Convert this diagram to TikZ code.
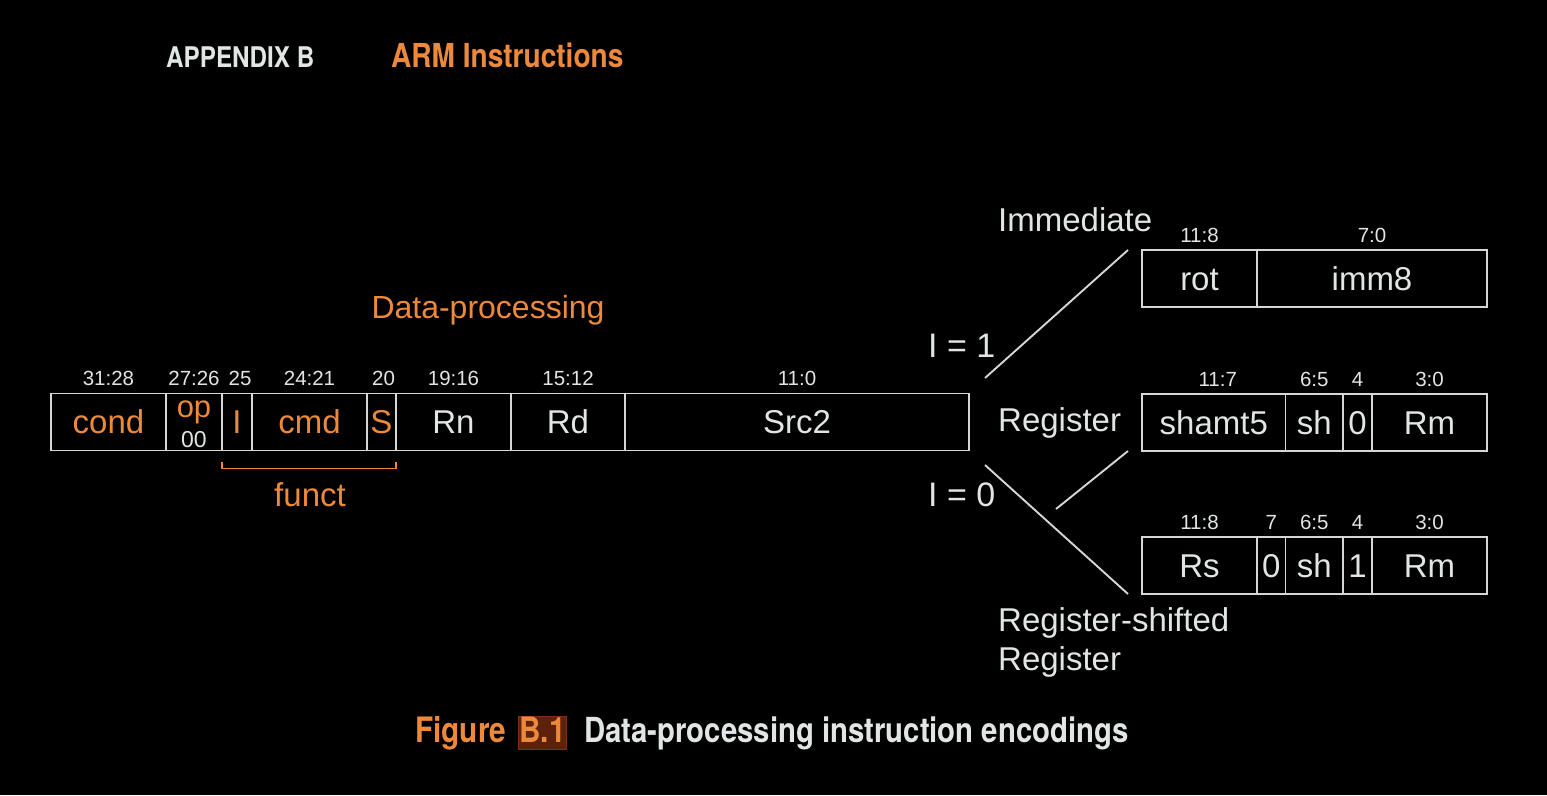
\documentclass[tikz,border=0pt]{standalone}
\usepackage{fontspec}
\setmainfont{Liberation Sans}
\newfontfamily\capfont[FakeStretch=0.85]{TeX Gyre Heros}
\usetikzlibrary{positioning}

\definecolor{armorange}{RGB}{236,137,58}
\definecolor{textgray}{RGB}{226,229,229}
\definecolor{framegray}{RGB}{214,214,214}
\definecolor{figboxfill}{RGB}{92,34,10}
\definecolor{figboxdraw}{RGB}{122,50,18}

\tikzset{
  field/.style={draw=framegray, line width=1.9pt, minimum height=57pt,
    inner sep=0pt, outer sep=0pt, text=textgray,
    text height=23.6pt, text depth=0pt, font=\fontsize{33}{38}\selectfont},
  bitno/.style={anchor=base, yshift=8pt, inner sep=0pt, text=textgray,
    font=\fontsize{20.5}{24}\selectfont},
  lbl/.style={anchor=base west, inner sep=0pt, text=textgray,
    font=\fontsize{33}{38}\selectfont},
  wire/.style={draw=framegray, line width=1.9pt},
  headtext/.style={anchor=base west, inner sep=0pt, text=textgray},
}

\begin{document}
\begin{tikzpicture}[x=1pt,y=-1pt]
            \fill[black] (0,0) rectangle (1547,795);
            \useasboundingbox (0,0) rectangle (1547,795);
            % page head
            \node[headtext, font=\capfont\bfseries\fontsize{28.5}{32}\selectfont] (appx) at (166,67) {APPENDIX B};
            \node[headtext, text=armorange, font=\capfont\bfseries\fontsize{33}{36}\selectfont] (chap) at (391,67) {ARM Instructions};
            % data-processing format
            \node[lbl, anchor=base, text=armorange, font=\fontsize{32}{36}\selectfont] (dptitle) at (488,318) {Data-processing};
            \node[field, minimum width=115pt, text=armorange] (cond) at (108.5,422) {cond};
            \node[field, minimum width=56pt, right=0pt of cond] (op) {};
            \node[field, minimum width=30pt, right=0pt of op, text=armorange] (ibit) {I};
            \node[field, minimum width=115pt, right=0pt of ibit, text=armorange] (cmd) {cmd};
            \node[field, minimum width=29pt, right=0pt of cmd, text=armorange] (sbit) {S};
            \node[field, minimum width=115pt, right=0pt of sbit] (rn) {Rn};
            \node[field, minimum width=114pt, right=0pt of rn] (rd) {Rd};
            \node[field, minimum width=344pt, right=0pt of rd] (src) {Src2};
            \node[anchor=base, inner sep=0pt, text=armorange, font=\fontsize{31}{34}\selectfont] (optop) at ([yshift=5pt]op.center) {op};
            \node[anchor=base, inner sep=0pt, text=textgray, font=\fontsize{23}{26}\selectfont] (opval) at ([yshift=-25pt]op.center) {00};
            \node[bitno] at (cond.north) {31:28};
            \node[bitno] at (op.north) {27:26};
            \node[bitno] at ([xshift=3pt]ibit.north) {25};
            \node[bitno] at (cmd.north) {24:21};
            \node[bitno] at ([xshift=2pt]sbit.north) {20};
            \node[bitno] at (rn.north) {19:16};
            \node[bitno] at (rd.north) {15:12};
            \node[bitno] at (src.north) {11:0};
            \draw[armorange, line width=1.9pt] ([yshift=-11pt]ibit.south west) -- ++(0,7) -| ([yshift=-11pt]sbit.south east);
            \node[lbl, anchor=base, text=armorange] (funct) at (310,506) {funct};
            % Src2 variants
            \node[lbl, font=\fontsize{34}{38}\selectfont] (ione) at (928,357) {I = 1};
            \node[lbl, font=\fontsize{34}{38}\selectfont] (izero) at (928,506) {I = 0};
            \node[lbl] (immlbl) at (998,231) {Immediate};
            \node[lbl] (reglbl) at (998,431) {Register};
            \node[lbl] (rsrlbl) at (998,631) {Register-shifted};
            \node[lbl] (rsrlblb) at (998,670) {Register};
            \node[field, minimum width=115pt] (rot) at (1199.5,278.5) {rot};
            \node[field, minimum width=230pt, right=0pt of rot] (imm) {imm8};
            \node[bitno] at (rot.north) {11:8};
            \node[bitno] at (imm.north) {7:0};
            \node[field, minimum width=143.5pt] (shamt) at (1213.75,422.5) {shamt5};
            \node[field, minimum width=57.5pt, right=0pt of shamt] (sha) {sh};
            \node[field, minimum width=29pt, right=0pt of sha] (zeroa) {0};
            \node[field, minimum width=115pt, right=0pt of zeroa] (rma) {Rm};
            \node[bitno] at ([xshift=4pt]shamt.north) {11:7};
            \node[bitno] at (sha.north) {6:5};
            \node[bitno] at (zeroa.north) {4};
            \node[bitno] at (rma.north) {3:0};
            \node[field, minimum width=115pt] (rs) at (1199.5,565.5) {Rs};
            \node[field, minimum width=28.5pt, right=0pt of rs] (zerob) {0};
            \node[field, minimum width=57.5pt, right=0pt of zerob] (shb) {sh};
            \node[field, minimum width=29pt, right=0pt of shb] (oneb) {1};
            \node[field, minimum width=115pt, right=0pt of oneb] (rmb) {Rm};
            \node[bitno] at (rs.north) {11:8};
            \node[bitno] at (zerob.north) {7};
            \node[bitno] at (shb.north) {6:5};
            \node[bitno] at (oneb.north) {4};
            \node[bitno] at (rmb.north) {3:0};
            \coordinate (isel) at (985,378);
            \coordinate (rsel) at (1056,509);
            \coordinate (rssel) at (985,465);
            \draw[wire] (isel) -- ([xshift=-14pt]rot.north west);
            \draw[wire] (rsel) -- ([xshift=-14pt]shamt.south west);
            \draw[wire] (rssel) -- ([xshift=-14pt]rs.south west);
            % caption
            \node[headtext, text=armorange, font=\capfont\bfseries\fontsize{35}{38}\selectfont] (figword) at (415,742) {Figure};
            \node[anchor=base, fill=figboxfill, draw=figboxdraw, line width=1pt, minimum width=47pt,
              inner xsep=0.5pt, inner ysep=1pt, text height=25pt, text depth=6pt, text=armorange,
              font=\capfont\bfseries\fontsize{35}{38}\selectfont] (fignum) at (542.5,742) {B.1};
            \node[headtext, font=\capfont\bfseries\fontsize{34.5}{38}\selectfont] (figtext) at (584,742) {Data-processing instruction encodings};
        \end{tikzpicture}
\end{document}
